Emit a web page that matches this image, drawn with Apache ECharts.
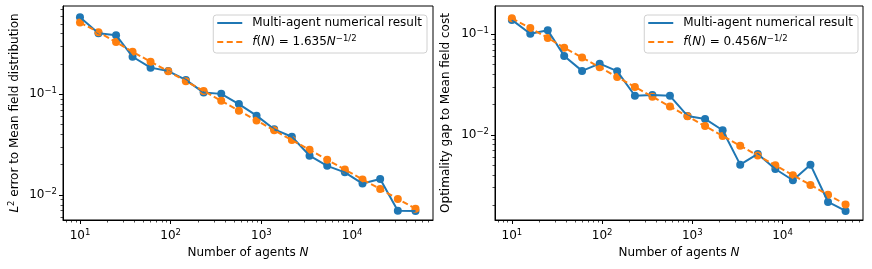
<!DOCTYPE html>
<html>
<head>
<meta charset="utf-8">
<script src="https://cdn.jsdelivr.net/npm/echarts@6/dist/echarts.min.js"></script>
<style>
html,body{margin:0;padding:0;background:#fff;}
#c{width:872px;height:269px;}
</style>
</head>
<body>
<div id="c"></div>
<script>
// Number of agents N (x values)
const agentsN = [10, 16, 25, 38, 60, 94, 147, 231, 361, 565, 885, 1385, 2169, 3396, 5316, 8323, 13030, 20400, 31940, 50000];

// Left panel: L2 error to mean field distribution
const leftNumerical = [0.582, 0.404, 0.386, 0.236, 0.184, 0.170, 0.139, 0.104, 0.101, 0.080, 0.0614, 0.0449, 0.0379, 0.0246, 0.0195, 0.0168, 0.0130, 0.0144, 0.00698, 0.00694];
const leftFit = [0.517, 0.413, 0.330, 0.264, 0.211, 0.169, 0.135, 0.108, 0.0861, 0.0688, 0.0550, 0.0439, 0.0351, 0.0281, 0.0224, 0.0179, 0.0143, 0.01145, 0.00915, 0.00731];

// Right panel: optimality gap to mean field cost
const rightNumerical = [0.139, 0.1014, 0.1096, 0.0610, 0.0433, 0.0511, 0.0430, 0.0245, 0.0249, 0.0245, 0.01545, 0.01443, 0.01113, 0.00507, 0.00648, 0.00459, 0.00355, 0.00507, 0.00216, 0.00176];
const rightFit = [0.1442, 0.1153, 0.0921, 0.0736, 0.0588, 0.0470, 0.0376, 0.0300, 0.0240, 0.0192, 0.01533, 0.01225, 0.00979, 0.00782, 0.00625, 0.00500, 0.00399, 0.00319, 0.00255, 0.00204];

// Tick values
const xMajorTicks = [10, 100, 1000, 10000];
const leftYMajorTicks = [0.01, 0.1];
const rightYMajorTicks = [0.01, 0.1];
const xMinorTicks = [7, 8, 9, 20, 30, 40, 50, 60, 70, 80, 90, 200, 300, 400, 500, 600, 700, 800, 900, 2000, 3000, 4000, 5000, 6000, 7000, 8000, 9000, 20000, 30000, 40000, 50000, 60000, 70000];
const leftYMinorTicks = [0.006, 0.007, 0.008, 0.009, 0.02, 0.03, 0.04, 0.05, 0.06, 0.07, 0.08, 0.09, 0.2, 0.3, 0.4, 0.5, 0.6, 0.7];
const rightYMinorTicks = [0.002, 0.003, 0.004, 0.005, 0.006, 0.007, 0.008, 0.009, 0.02, 0.03, 0.04, 0.05, 0.06, 0.07, 0.08, 0.09];

const BLUE = '#1f77b4', ORANGE = '#ff7f0e';
const FONT = 'DejaVu Sans';
const FS = 12;

const supRich = {
  b: {fontSize: FS, fontFamily: FONT, color: '#000'},
  s: {fontSize: 8.5, fontFamily: FONT, color: '#000', padding: [0, 0, 7, 0]}
};
function powLabel(v) {
  const e = Math.round(Math.log10(v));
  return '{b|10}{s|' + (e < 0 ? '\u2212' : '') + Math.abs(e) + '}';
}

const nameRich = {
  i: {fontStyle: 'italic', fontSize: FS, fontFamily: FONT, color: '#000'},
  s: {fontSize: 8.5, fontFamily: FONT, color: '#000', padding: [0, 0, 7, 0]},
  t: {fontSize: FS, fontFamily: FONT, color: '#000'}
};
const legendRich = {
  i: {fontStyle: 'italic', fontSize: FS, fontFamily: FONT, color: '#000', lineHeight: 15},
  s: {fontSize: 8.5, fontFamily: FONT, color: '#000', padding: [0, 0, 7, 0], lineHeight: 15},
  t: {fontSize: FS, fontFamily: FONT, color: '#000', lineHeight: 15}
};

const grids = [
  {left: 63, right: 439, top: 6, bottom: 49, show: true, borderColor: '#000', borderWidth: 1, backgroundColor: 'transparent'},
  {left: 495, right: 9, top: 6, bottom: 49, show: true, borderColor: '#000', borderWidth: 1, backgroundColor: 'transparent'}
];

function majorX(gi) {
  return {
    type: 'log', logBase: 10, gridIndex: gi, position: 'bottom', min: 6.5, max: 78000,
    name: '{t|Number of agents }{i|N}', nameLocation: 'middle', nameGap: 27,
    nameTextStyle: {rich: nameRich},
    axisLine: {show: true, lineStyle: {color: '#000', width: 1}},
    axisTick: {show: true, length: 4, lineStyle: {color: '#000', width: 1}, customValues: xMajorTicks},
    axisLabel: {customValues: xMajorTicks, formatter: powLabel, rich: supRich, margin: 8},
    splitLine: {show: false}
  };
}
function minorX(gi) {
  return {
    type: 'log', logBase: 10, gridIndex: gi, position: 'bottom', offset: 0, min: 6.5, max: 78000,
    axisLine: {show: false},
    axisTick: {show: true, length: 2.5, lineStyle: {color: '#000', width: 0.7}, customValues: xMinorTicks},
    axisLabel: {show: false},
    splitLine: {show: false}
  };
}
function majorY(gi, min, max, ticks, name, gap) {
  return {
    type: 'log', logBase: 10, gridIndex: gi, position: 'left', min: min, max: max,
    name: name, nameLocation: 'middle', nameGap: gap,
    nameTextStyle: {rich: nameRich},
    axisLine: {show: true, lineStyle: {color: '#000', width: 1}},
    axisTick: {show: true, length: 4, lineStyle: {color: '#000', width: 1}, customValues: ticks},
    axisLabel: {customValues: ticks, formatter: powLabel, rich: supRich, margin: 6},
    splitLine: {show: false}
  };
}
function minorY(gi, min, max, ticks) {
  return {
    type: 'log', logBase: 10, gridIndex: gi, position: 'left', offset: 0, min: min, max: max,
    axisLine: {show: false},
    axisTick: {show: true, length: 2.5, lineStyle: {color: '#000', width: 0.7}, customValues: ticks},
    axisLabel: {show: false},
    splitLine: {show: false}
  };
}

function pairs(xs, ys) { return xs.map((x, i) => [x, ys[i]]); }

function lineSeries(name, gi, ys, color, dashed) {
  return {
    name: name, type: 'line', xAxisIndex: gi * 2, yAxisIndex: gi * 2,
    data: pairs(agentsN, ys), symbol: 'none', animation: false,
    lineStyle: {color: color, width: 2, type: dashed ? [6, 3] : 'solid'},
    itemStyle: {color: color}
  };
}
function markerSeries(gi, ys, color) {
  return {
    type: 'scatter', xAxisIndex: gi * 2, yAxisIndex: gi * 2,
    data: pairs(agentsN, ys), symbol: 'circle', symbolSize: 8, animation: false,
    itemStyle: {color: color, opacity: 1}
  };
}

const legendText = {
  'A1': '{t|Multi-agent numerical result}',
  'F1': '{i|f}{t|(}{i|N}{t|) = 1.635}{i|N}{s|\u22121/2}',
  'A2': '{t|Multi-agent numerical result}',
  'F2': '{i|f}{t|(}{i|N}{t|) = 0.456}{i|N}{s|\u22121/2}'
};
const SOLID_ICON = 'path://M0,0h25v2h-25z';
const DASH_ICON = 'path://M0,0h6v2h-6z M9.5,0h6v2h-6z M19,0h6v2h-6z';
function legend(names, right) {
  return {
    data: [{name: names[0], icon: SOLID_ICON}, {name: names[1], icon: DASH_ICON}],
    orient: 'vertical', right: right, top: 15,
    itemWidth: 25, itemHeight: 2, itemGap: 5,
    padding: [2, 5, 3, 4],
    backgroundColor: '#fff', borderColor: '#d0d0d0', borderWidth: 1, borderRadius: 3,
    formatter: n => legendText[n],
    textStyle: {rich: legendRich, fontSize: FS, fontFamily: FONT, padding: [0, 0, 0, 5]},
    selectedMode: false
  };
}

const chart = echarts.init(document.getElementById('c'), null, {renderer: 'canvas'});
chart.setOption({
  animation: false,
  textStyle: {fontFamily: FONT},
  grid: grids,
  xAxis: [majorX(0), minorX(0), majorX(1), minorX(1)],
  yAxis: [
    majorY(0, 0.00565, 0.753, leftYMajorTicks, '{i|L}{s|2}{t| error to Mean field distribution}', 40),
    minorY(0, 0.00565, 0.753, leftYMinorTicks),
    majorY(1, 0.00143, 0.191, rightYMajorTicks, '{t|Optimality gap to Mean field cost}', 43),
    minorY(1, 0.00143, 0.191, rightYMinorTicks)
  ],
  legend: [legend(['A1', 'F1'], 872 - 427), legend(['A2', 'F2'], 872 - 858)],
  series: [
    lineSeries('A1', 0, leftNumerical, BLUE, false),
    markerSeries(0, leftNumerical, BLUE),
    lineSeries('F1', 0, leftFit, ORANGE, true),
    markerSeries(0, leftFit, ORANGE),
    lineSeries('A2', 1, rightNumerical, BLUE, false),
    markerSeries(1, rightNumerical, BLUE),
    lineSeries('F2', 1, rightFit, ORANGE, true),
    markerSeries(1, rightFit, ORANGE)
  ]
});
</script>
</body>
</html>
